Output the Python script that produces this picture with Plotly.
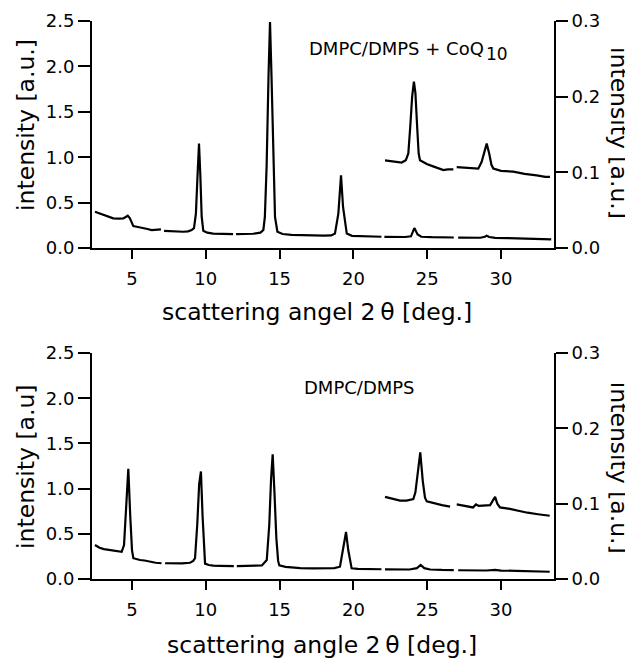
import plotly.graph_objects as go

# ---------------- data ----------------
# upper panel: DMPC/DMPS + CoQ10, main trace (left axis)
top_x = [2.49, 2.8, 3.06, 3.4, 3.73, 4.1, 4.41, 4.6, 4.71, 4.85, 5.0, 5.09, 5.4, 5.77, 6.05, 6.33, 6.6, 6.96, None,
         7.17, 7.6, 8.0, 8.48, 8.8, 9.04, 9.2, 9.33, 9.44, 9.54, 9.63, 9.72, 9.83, 10.1, 10.5, 11.0, 11.5, 11.85, None,
         12.05, 12.6, 13.2, 13.7, 13.9, 14.0, 14.12, 14.25, 14.35, 14.45, 14.58, 14.69, 14.85, 15.2, 15.8, 16.5, 17.3,
         18.0, 18.5, 18.75, 18.98, 19.16, 19.3, 19.55, 19.9, 20.5, 21.2, 21.9, None,
         22.1, 22.8, 23.5, 23.9, 24.13, 24.35, 24.6, 25.3, 26.0, 26.8, None,
         27.1, 27.8, 28.6, 28.9, 29.03, 29.2, 29.6, 30.5, 31.5, 32.5, 33.4]
top_y = [0.40, 0.38, 0.363, 0.34, 0.327, 0.325, 0.327, 0.345, 0.356, 0.33, 0.27, 0.242, 0.232, 0.224, 0.21, 0.198, 0.2, 0.206, None,
         0.19, 0.185, 0.182, 0.18, 0.185, 0.198, 0.22, 0.38, 0.8, 1.15, 0.8, 0.35, 0.19, 0.17, 0.16, 0.158, 0.155, 0.155, None,
         0.155, 0.155, 0.158, 0.17, 0.2, 0.34, 0.9, 1.9, 2.49, 1.9, 0.9, 0.34, 0.18, 0.155, 0.145, 0.14, 0.138,
         0.137, 0.14, 0.16, 0.38, 0.80, 0.45, 0.16, 0.135, 0.13, 0.127, 0.125, None,
         0.124, 0.123, 0.122, 0.13, 0.22, 0.15, 0.125, 0.12, 0.118, 0.117, None,
         0.116, 0.115, 0.114, 0.125, 0.135, 0.122, 0.112, 0.11, 0.105, 0.1, 0.096]

# upper panel: magnified trace (right axis)
top_zoom_x = [22.14, 22.6, 23.27, 23.55, 23.72, 23.85, 23.98, 24.1, 24.2, 24.32, 24.42, 24.51, 24.75, 24.97, 25.4,
              25.87, 26.1, 26.4, 26.77, None,
              27.0, 27.5, 28.0, 28.46, 28.69, 28.88, 29.03, 29.2, 29.35, 29.48, 30.0, 30.83, 31.6, 32.42, 33.0, 33.32]
top_zoom_y = [0.116, 0.115, 0.113, 0.116, 0.125, 0.16, 0.2, 0.22, 0.205, 0.16, 0.125, 0.116, 0.113, 0.111, 0.108,
              0.105, 0.103, 0.104, 0.104, None,
              0.107, 0.106, 0.105, 0.105, 0.114, 0.128, 0.138, 0.125, 0.11, 0.105, 0.102, 0.101, 0.098, 0.096, 0.094, 0.094]

# lower panel: DMPC/DMPS, main trace (left axis)
bot_x = [2.49, 2.8, 3.1, 3.51, 3.9, 4.3, 4.46, 4.58, 4.75, 4.88, 5.0, 5.09, 5.3, 5.54, 5.85, 6.22, 6.6, 7.0, None,
         7.24, 7.8, 8.4, 8.93, 9.15, 9.27, 9.42, 9.55, 9.67, 9.78, 9.88, 9.95, 10.2, 10.5, 11.0, 11.5, 11.9, None,
         12.1, 12.7, 13.3, 13.8, 14.13, 14.3, 14.42, 14.53, 14.64, 14.78, 14.9, 14.98, 15.4, 16.0, 16.4, 17.2, 18.0,
         18.7, 19.09, 19.31, 19.5, 19.65, 19.88, 20.3, 21.0, 21.9, None,
         22.14, 23.0, 23.8, 24.3, 24.56, 24.8, 25.2, 26.0, 26.8, None,
         27.1, 28.0, 29.0, 29.6, 30.0, 31.0, 32.0, 33.3]
bot_y = [0.376, 0.345, 0.33, 0.32, 0.31, 0.30, 0.376, 0.7, 1.22, 0.7, 0.32, 0.23, 0.22, 0.21, 0.205, 0.19, 0.18, 0.174, None,
         0.174, 0.172, 0.172, 0.18, 0.2, 0.23, 0.6, 1.05, 1.19, 0.7, 0.3, 0.17, 0.155, 0.147, 0.145, 0.143, 0.142, None,
         0.142, 0.142, 0.143, 0.15, 0.21, 0.6, 1.1, 1.38, 1.0, 0.45, 0.2, 0.15, 0.135, 0.125, 0.12, 0.118, 0.118,
         0.12, 0.136, 0.357, 0.52, 0.32, 0.118, 0.112, 0.11, 0.108, None,
         0.107, 0.106, 0.105, 0.12, 0.155, 0.12, 0.105, 0.1, 0.098, None,
         0.097, 0.095, 0.094, 0.1, 0.093, 0.09, 0.086, 0.08]

# lower panel: magnified trace (right axis)
bot_zoom_x = [22.14, 22.6, 23.16, 23.6, 24.06, 24.2, 24.35, 24.53, 24.7, 24.85, 24.97, 25.5, 26.0, 26.55, None,
              27.0, 27.6, 28.1, 28.3, 28.5, 29.26, 29.45, 29.6, 29.75, 29.93, 30.6, 31.29, 31.8, 32.5, 33.3]
bot_zoom_y = [0.109, 0.107, 0.104, 0.104, 0.106, 0.115, 0.14, 0.168, 0.13, 0.108, 0.103, 0.1, 0.098, 0.096, None,
              0.099, 0.097, 0.095, 0.099, 0.097, 0.098, 0.104, 0.109, 0.1, 0.095, 0.093, 0.09, 0.088, 0.086, 0.084]

x_ticks = [5, 10, 15, 20, 25, 30]
left_ticks = [0.0, 0.5, 1.0, 1.5, 2.0, 2.5]
right_ticks = [0.0, 0.1, 0.2, 0.3]

# ---------------- figure ----------------
FONT = "DejaVu Sans"
line = dict(color="black", width=2.2)

fig = go.Figure()
fig.add_trace(go.Scatter(x=top_x, y=top_y, mode="lines", line=line, xaxis="x", yaxis="y", connectgaps=False))
fig.add_trace(go.Scatter(x=top_zoom_x, y=top_zoom_y, mode="lines", line=line, xaxis="x", yaxis="y2", connectgaps=False))
fig.add_trace(go.Scatter(x=bot_x, y=bot_y, mode="lines", line=line, xaxis="x2", yaxis="y3", connectgaps=False))
fig.add_trace(go.Scatter(x=bot_zoom_x, y=bot_zoom_y, mode="lines", line=line, xaxis="x2", yaxis="y4", connectgaps=False))

xcommon = dict(range=[2.29, 33.59], tickvals=x_ticks, ticktext=[str(v) for v in x_ticks],
               showline=True, linecolor="black", linewidth=2, ticks="outside", ticklen=9, tickwidth=2,
               tickcolor="black", showgrid=False, zeroline=False, tickfont=dict(size=18, color="black"),
               ticklabelstandoff=4, automargin=False)
ycommon_left = dict(range=[0, 2.5], tickvals=left_ticks, ticktext=[f"{v:.1f}" for v in left_ticks],
                    showline=True, linecolor="black", linewidth=2, ticks="outside", ticklen=12, tickwidth=2,
                    tickcolor="black", showgrid=False, zeroline=False, tickfont=dict(size=18, color="black"),
                    automargin=False)
ycommon_right = dict(range=[0, 0.3], tickvals=right_ticks, ticktext=[f"{v:.1f}" for v in right_ticks],
                     showline=True, linecolor="black", linewidth=2, ticks="outside", ticklen=12, tickwidth=2,
                     tickcolor="black", showgrid=False, zeroline=False, tickfont=dict(size=18, color="black"),
                     side="right", automargin=False)

top_dom = [0.593, 1.0]
bot_dom = [0.0, 0.405]

# the page adds an 8px body margin, so the figure is sized to fit inside it
fig.update_layout(
    width=625, height=652,
    margin=dict(l=84, r=79, t=13, b=81),
    paper_bgcolor="white", plot_bgcolor="white",
    showlegend=False,
    font=dict(family=FONT, color="black"),
    xaxis=dict(domain=[0, 1], anchor="y", **xcommon),
    yaxis=dict(domain=top_dom, anchor="x", **ycommon_left),
    yaxis2=dict(domain=top_dom, anchor="x", overlaying="y", **ycommon_right),
    xaxis2=dict(domain=[0, 1], anchor="y3", **xcommon),
    yaxis3=dict(domain=bot_dom, anchor="x2", **ycommon_left),
    yaxis4=dict(domain=bot_dom, anchor="x2", overlaying="y3", **ycommon_right),
)

TITLE = 23.5
ann = [
    dict(text="intensity [a.u.]", x=-0.143, y=0.8136, textangle=-90, font=dict(size=TITLE)),
    dict(text="intensity [a.u]", x=-0.143, y=0.2007, textangle=-90, font=dict(size=TITLE)),
    dict(text="intensity [a.u.]", x=1.141, y=0.799, textangle=90, font=dict(size=TITLE)),
    dict(text="intensity [a.u.]", x=1.141, y=0.199, textangle=90, font=dict(size=TITLE)),
    dict(text="scattering angel 2\u2009\u03b8 [deg.]", x=0.486, y=0.4785, font=dict(size=TITLE)),
    dict(text="scattering angle 2\u2009\u03b8 [deg.]", x=0.498, y=-0.118, font=dict(size=TITLE)),
    dict(text="DMPC/DMPS + CoQ", x=0.465, y=0.9516, xanchor="left", font=dict(size=18)),
    dict(text="10", x=0.849, y=0.941, xanchor="left", font=dict(size=17)),
    dict(text="DMPC/DMPS", x=0.4545, y=0.344, xanchor="left", font=dict(size=18)),
]
for a in ann:
    a.setdefault("xanchor", "center")
    a.update(xref="paper", yref="paper", yanchor="middle", showarrow=False)
    a["font"]["family"] = FONT
    a["font"]["color"] = "black"
fig.update_layout(annotations=ann)

fig.write_html("out.html")
